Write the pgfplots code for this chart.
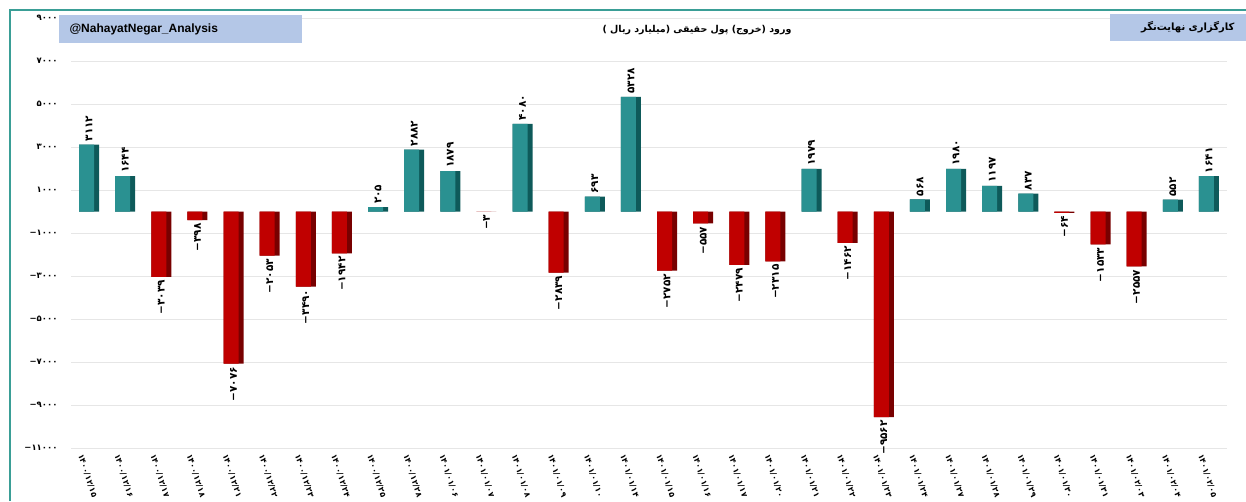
\documentclass[border=0pt]{standalone}
\usepackage{pgfplots}
\pgfplotsset{compat=1.18}
\usepackage{fontspec}
\setmainfont{Liberation Sans}
\newfontfamily\pfont{DejaVu Sans}
\newfontfamily\arabicfont[Script=Arabic]{DejaVu Sans}
\TeXXeTstate=1
\definecolor{tealF}{HTML}{2A9191}
\definecolor{tealD}{HTML}{0E5A5A}
\definecolor{redF}{HTML}{C00000}
\definecolor{redD}{HTML}{780000}
\definecolor{boxblue}{HTML}{B4C7E7}
\definecolor{framec}{HTML}{3A9E96}
\definecolor{gridc}{HTML}{E6E6E6}

\pgfplotstableread{
x y lab
0 3112 ۳۱۱۲
1 1644 ۱۶۴۴
8 205 ۲۰۵
9 2882 ۲۸۸۲
10 1879 ۱۸۷۹
12 4080 ۴۰۸۰
14 693 ۶۹۳
15 5328 ۵۳۲۸
20 1979 ۱۹۷۹
23 568 ۵۶۸
24 1980 ۱۹۸۰
25 1197 ۱۱۹۷
26 837 ۸۳۷
30 552 ۵۵۲
31 1641 ۱۶۴۱
}\pos

\pgfplotstableread{
x y lab
2 -3039 −۳۰۳۹
3 -398 −۳۹۸
4 -7076 −۷۰۷۶
5 -2053 −۲۰۵۳
6 -3490 −۳۴۹۰
7 -1942 −۱۹۴۲
11 -3 −۳
13 -2839 −۲۸۳۹
16 -2752 −۲۷۵۲
17 -557 −۵۵۷
18 -2479 −۲۴۷۹
19 -2315 −۲۳۱۵
21 -1462 −۱۴۶۲
22 -9562 −۹۵۶۲
27 -64 −۶۴
28 -1533 −۱۵۳۳
29 -2557 −۲۵۵۷
}\neg

\begin{document}
\begin{tikzpicture}[x=1pt,y=1pt]
\begin{axis}[
  at={(71pt,-448pt)}, anchor=south west,
  scale only axis, width=1156pt, height=430pt,
  xmin=-0.5, xmax=31.5, ymin=-11000, ymax=9000,
  scaled y ticks=false,
  axis line style={draw=none},
  major tick length=0pt,
  ymajorgrids, grid style={gridc, line width=0.8pt},
  ytick={-11000,-9000,...,9000},
  yticklabels={−۱۱۰۰۰,−۹۰۰۰,−۷۰۰۰,−۵۰۰۰,−۳۰۰۰,−۱۰۰۰,۱۰۰۰,۳۰۰۰,۵۰۰۰,۷۰۰۰,۹۰۰۰},
  yticklabel style={font=\pfont\bfseries\fontsize{8.5}{10}\selectfont, xshift=-10pt},
  xtick={0,...,31},
  xticklabels={۱۴۰۰/۱۲/۱۵,۱۴۰۰/۱۲/۱۶,۱۴۰۰/۱۲/۱۷,۱۴۰۰/۱۲/۱۸,۱۴۰۰/۱۲/۲۱,۱۴۰۰/۱۲/۲۲,۱۴۰۰/۱۲/۲۳,۱۴۰۰/۱۲/۲۴,۱۴۰۰/۱۲/۲۵,۱۴۰۰/۱۲/۲۸,۱۴۰۱/۰۱/۰۶,۱۴۰۱/۰۱/۰۷,۱۴۰۱/۰۱/۰۸,۱۴۰۱/۰۱/۰۹,۱۴۰۱/۰۱/۱۰,۱۴۰۱/۰۱/۱۴,۱۴۰۱/۰۱/۱۵,۱۴۰۱/۰۱/۱۶,۱۴۰۱/۰۱/۱۷,۱۴۰۱/۰۱/۲۰,۱۴۰۱/۰۱/۲۱,۱۴۰۱/۰۱/۲۲,۱۴۰۱/۰۱/۲۳,۱۴۰۱/۰۱/۲۴,۱۴۰۱/۰۱/۲۷,۱۴۰۱/۰۱/۲۸,۱۴۰۱/۰۱/۲۹,۱۴۰۱/۰۱/۳۰,۱۴۰۱/۰۱/۳۱,۱۴۰۱/۰۲/۰۳,۱۴۰۱/۰۲/۰۴,۱۴۰۱/۰۲/۰۵},
  xticklabel style={font=\pfont\bfseries\fontsize{8}{9}\selectfont, rotate=-72, anchor=west, yshift=-10pt},
  ybar, bar shift=0pt,
]
\addplot[ybar, bar width=20pt, fill=tealD, draw=none,
  point meta=explicit symbolic, nodes near coords,
  nodes near coords style={rotate=90, anchor=west, font=\pfont\bfseries\fontsize{10.5}{12}\selectfont, inner sep=3pt}]
  table[x=x, y=y, meta=lab] {\pos};
\addplot[ybar, bar width=15pt, bar shift=-2.5pt, fill=tealF, draw=none] table[x=x, y=y] {\pos};
\addplot[ybar, bar width=20pt, fill=redD, draw=none,
  point meta=explicit symbolic, nodes near coords,
  nodes near coords style={rotate=90, anchor=east, font=\pfont\bfseries\fontsize{10.5}{12}\selectfont, inner sep=3pt}]
  table[x=x, y=y, meta=lab] {\neg};
\addplot[ybar, bar width=15pt, bar shift=-2.5pt, fill=redF, draw=none] table[x=x, y=y] {\neg};
\end{axis}
\fill[boxblue] (59,-15) rectangle (302,-43);
\node[anchor=west, font=\bfseries\fontsize{12}{14}\selectfont] at (66,-29) {@NahayatNegar\_Analysis};
\fill[boxblue] (1110,-14) rectangle (1246,-41);
\node[anchor=east, font=\arabicfont\bfseries\fontsize{10}{12}\selectfont] at (1238,-27.5) {\beginR کارگزاری نهایت‌نگر\endR};
\node[font=\arabicfont\bfseries\fontsize{9.5}{11}\selectfont] at (697,-30) {\beginR ورود (خروج) پول حقیقی (میلیارد ریال )\endR};
\draw[framec, line width=2.5pt] (10,-501) -- (10,-10) -- (1246,-10);
\pgfresetboundingbox
\path[use as bounding box] (0,0) rectangle (1246,-501);
\end{tikzpicture}
\end{document}
